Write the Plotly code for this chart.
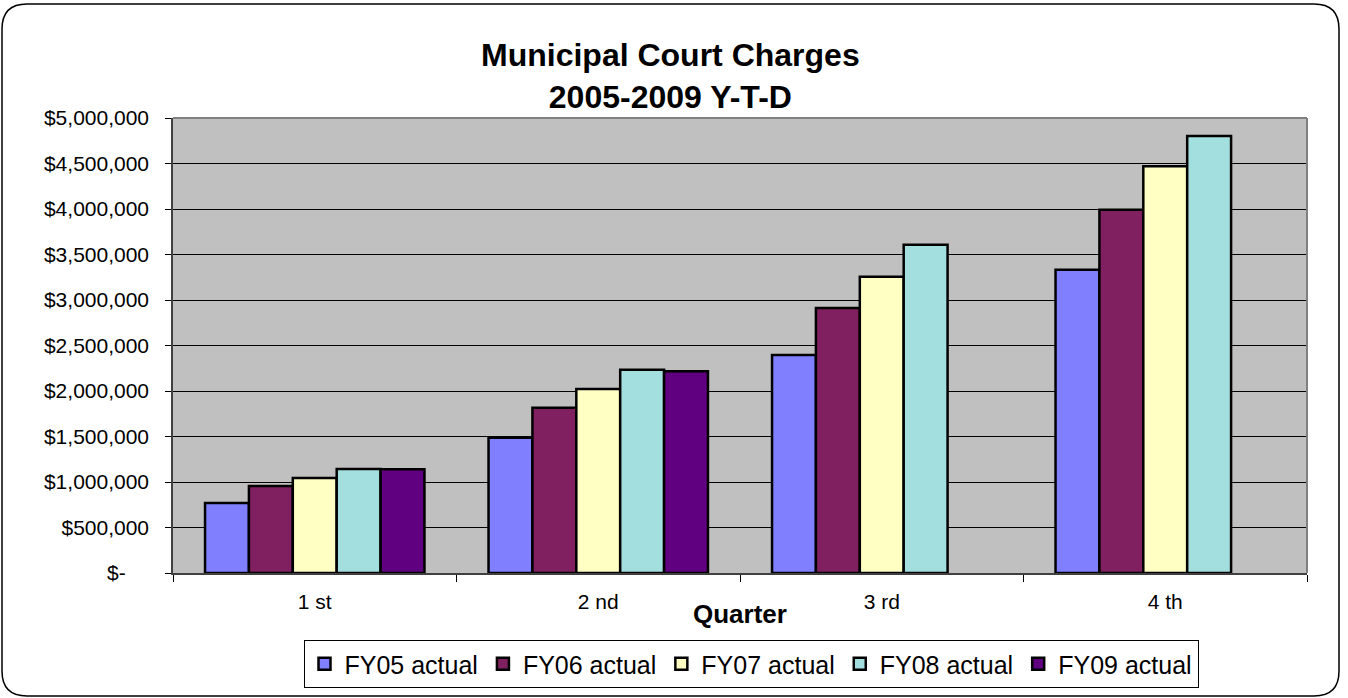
import plotly.graph_objects as go

quarters = ["1 st", "2 nd", "3 rd", "4 th"]
fy05 = [770000, 1487000, 2396000, 3333000]
fy06 = [955000, 1817000, 2912000, 3992000]
fy07 = [1044000, 2022000, 3256000, 4469000]
fy08 = [1143000, 2234000, 3608000, 4802000]
fy09 = [1140000, 2216000, None, None]
series_names = ["FY05 actual", "FY06 actual", "FY07 actual", "FY08 actual", "FY09 actual"]
series_values = [fy05, fy06, fy07, fy08, fy09]
colors = ["#8080FF", "#802060", "#FFFFC4", "#A4DFE0", "#600080"]

ytick_vals = [0, 500000, 1000000, 1500000, 2000000, 2500000, 3000000, 3500000, 4000000, 4500000, 5000000]
ytick_text = ["$-\u00a0\u00a0\u00a0\u00a0", "$500,000", "$1,000,000", "$1,500,000", "$2,000,000", "$2,500,000",
              "$3,000,000", "$3,500,000", "$4,000,000", "$4,500,000", "$5,000,000"]

FONT = "Arial, 'Liberation Sans', sans-serif"

W, H = 1348, 698
L, R, T, B = 173, 1307, 118, 573


def px(x):
    return (x - L) / (R - L)


def py(y):
    return (B - y) / (B - T)


fig = go.Figure()
for name, vals, c in zip(series_names, series_values, colors):
    fig.add_trace(go.Bar(
        x=quarters, y=vals, name=name,
        marker=dict(color=c, line=dict(color="black", width=2.5)),
    ))

# rounded outer border
x0, x1, y0, y1, r = 2, 1339, 4, 696, 25
path = (f"M {px(x0+r)},{py(y0)} L {px(x1-r)},{py(y0)} Q {px(x1)},{py(y0)} {px(x1)},{py(y0+r)} "
        f"L {px(x1)},{py(y1-r)} Q {px(x1)},{py(y1)} {px(x1-r)},{py(y1)} "
        f"L {px(x0+r)},{py(y1)} Q {px(x0)},{py(y1)} {px(x0)},{py(y1-r)} "
        f"L {px(x0)},{py(y0+r)} Q {px(x0)},{py(y0)} {px(x0+r)},{py(y0)} Z")

fig.update_layout(
    width=W, height=H, autosize=False,
    margin=dict(l=L, r=W - R, t=T, b=H - B, pad=0, autoexpand=False),
    paper_bgcolor="white", plot_bgcolor="#C0C0C0",
    barmode="group", bargap=0.226, bargroupgap=0,
    font=dict(family=FONT, color="black"),
    showlegend=True,
    legend=dict(orientation="h", xref="container", yref="container",
                x=751 / W, xanchor="center", y=(H - 640) / H, yanchor="top",
                bordercolor="black", borderwidth=1, bgcolor="white",
                font=dict(family=FONT, size=25, color="black"),
                itemwidth=30, tracegroupgap=0),
    xaxis=dict(type="category", ticks="outside", tickson="boundaries", ticklen=7, tickcolor="black",
               tickwidth=1, showline=True, linecolor="#404040", linewidth=1.5, showgrid=False,
               automargin=False,
               tickfont=dict(family=FONT, size=21, color="black"), ticklabelstandoff=9),
    yaxis=dict(range=[0, 5000000], tickvals=ytick_vals, ticktext=ytick_text, ticks="outside",
               ticklen=6, tickcolor="black", tickwidth=1, showline=True, linecolor="#404040",
               linewidth=1.5, showgrid=True, gridcolor="black", gridwidth=1, zeroline=False,
               automargin=False,
               tickfont=dict(family=FONT, size=21, color="black"), ticklabelstandoff=12),
    shapes=[
        dict(type="line", xref="paper", yref="paper", x0=0, x1=1, y0=1, y1=1,
             line=dict(color="#808080", width=2)),
        dict(type="line", xref="paper", yref="paper", x0=1, x1=1, y0=0, y1=1,
             line=dict(color="#808080", width=2)),
        dict(type="path", xref="paper", yref="paper", path=path,
             line=dict(color="black", width=1.5), fillcolor="rgba(0,0,0,0)", layer="above"),
    ],
    annotations=[
        dict(text="<b>Municipal Court Charges<br>2005-2009 Y-T-D</b>", xref="paper", yref="paper",
             x=px(670.5), y=py(76), xanchor="center", yanchor="middle", showarrow=False,
             font=dict(family=FONT, size=32, color="black")),
        dict(text="<b>Quarter</b>", xref="paper", yref="paper", x=px(740), y=py(614),
             xanchor="center", yanchor="middle", showarrow=False,
             font=dict(family=FONT, size=26, color="black")),
    ],
)

fig.write_html("out.html", config={"displayModeBar": False},
               post_script="document.body.style.margin='0';")
